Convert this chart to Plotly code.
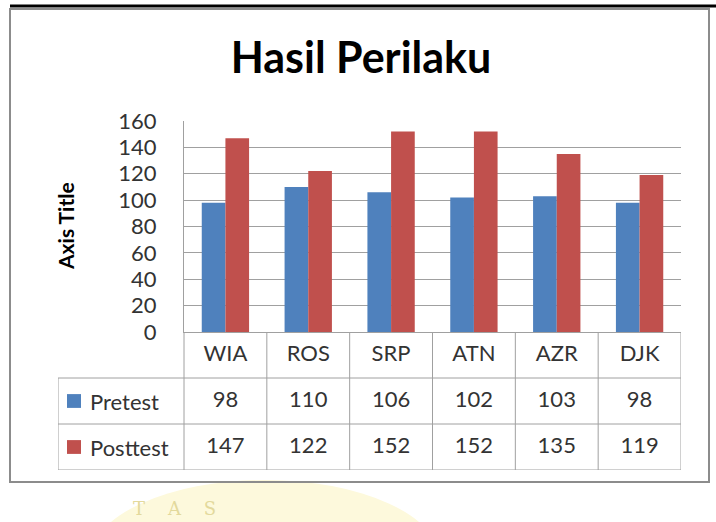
import plotly.graph_objects as go

# ---- data ----
categories = ["WIA", "ROS", "SRP", "ATN", "AZR", "DJK"]
pretest = [98, 110, 106, 102, 103, 98]
posttest = [147, 122, 152, 152, 135, 119]
series_names = ["Pretest", "Posttest"]
title_text = "Hasil Perilaku"
y_axis_title = "Axis Title"
y_ticks = [0, 20, 40, 60, 80, 100, 120, 140, 160]

# ---- layout helpers (pixel -> paper) ----
W, H = 716, 522
def px(x):
    return x / W
def py(y):
    return 1 - y / H

BLUE = "#4F81BD"
RED = "#C0504D"
GRID = "#a0a0a0"
TXT = "#333333"
FONT = "Lato"

plot_left, plot_right = 184, 681
plot_top, plot_bottom = 121, 332
table_left, table_bottom = 58, 470

ncat = len(categories)
cat_w = (plot_right - plot_left) / ncat
x2_min = -0.5 - (plot_left - table_left) / cat_w

fig = go.Figure()
fig.add_trace(go.Bar(x=categories, y=pretest, name=series_names[0],
                     marker=dict(color=BLUE, line=dict(width=0)),
                     xaxis="x", yaxis="y", showlegend=False))
fig.add_trace(go.Bar(x=categories, y=posttest, name=series_names[1],
                     marker=dict(color=RED, line=dict(width=0)),
                     xaxis="x", yaxis="y", showlegend=False))

# data table as text on its own axes
rows = [(categories, 2.5), ([str(v) for v in pretest], 1.5), ([str(v) for v in posttest], 0.5)]
for texts, yv in rows:
    fig.add_trace(go.Scatter(x=categories, y=[yv] * ncat, text=texts, mode="text",
                             textposition="middle center", cliponaxis=False,
                             textfont=dict(family=FONT, size=22, color=TXT),
                             xaxis="x2", yaxis="y2", showlegend=False, hoverinfo="skip"))

shapes = []
# watermark blob
shapes.append(dict(type="circle", xref="paper", yref="paper", layer="below",
                   x0=px(90), x1=px(440), y0=py(640), y1=py(480),
                   fillcolor="#fdf9dc", line=dict(width=0)))
# outer black rule and chart border
shapes.append(dict(type="line", xref="paper", yref="paper", x0=px(10), x1=1, y0=py(6), y1=py(6),
                   line=dict(color="black", width=3)))
shapes.append(dict(type="rect", xref="paper", yref="paper", x0=px(10), x1=px(709), y0=py(482), y1=py(9),
                   line=dict(color="#8c8c8c", width=2)))
# table grid
tl = dict(color=GRID, width=1)
for yv, xs in [(3, -0.5), (2, x2_min), (1, x2_min), (0, x2_min)]:
    shapes.append(dict(type="line", xref="x2", yref="y2", x0=xs, x1=ncat - 0.5, y0=yv, y1=yv, line=tl))
shapes.append(dict(type="line", xref="x2", yref="y2", x0=x2_min, x1=x2_min, y0=0, y1=2, line=tl))
for i in range(ncat + 1):
    shapes.append(dict(type="line", xref="x2", yref="y2", x0=i - 0.5, x1=i - 0.5, y0=0, y1=3, line=tl))
# legend keys in the table
key_x0 = x2_min + (67 - table_left) / cat_w
key_x1 = x2_min + (81 - table_left) / cat_w
for col, yc in [(BLUE, 1.5), (RED, 0.5)]:
    shapes.append(dict(type="rect", xref="x2", yref="y2", x0=key_x0, x1=key_x1,
                       y0=yc - 0.15, y1=yc + 0.15, fillcolor=col, line=dict(width=0)))

annotations = []
label_x = x2_min + (88 - table_left) / cat_w
for name, yc in [(series_names[0], 1.5), (series_names[1], 0.5)]:
    annotations.append(dict(text=name, xref="x2", yref="y2", x=label_x, y=yc,
                            xanchor="left", yanchor="middle", showarrow=False,
                            font=dict(family=FONT, size=22, color=TXT)))
annotations.append(dict(text="<b>" + y_axis_title + "</b>", xref="paper", yref="paper",
                        x=px(65), y=py(226), textangle=-90, showarrow=False,
                        xanchor="center", yanchor="middle",
                        font=dict(family=FONT, size=21, color="black")))
annotations.append(dict(text="T    A    S", xref="paper", yref="paper", x=px(174), y=py(521),
                        xanchor="center", yanchor="bottom", showarrow=False,
                        font=dict(family="DejaVu Serif", size=18, color="#e3d99c")))

fig.update_layout(
    width=W, height=H,
    margin=dict(l=0, r=0, t=0, b=0, pad=0, autoexpand=False),
    paper_bgcolor="white", plot_bgcolor="rgba(0,0,0,0)",
    title=dict(text="<b>" + title_text + "</b>", x=px(361), y=py(58), xanchor="center", yanchor="middle",
               xref="paper", yref="paper", font=dict(family=FONT, size=43, color="black")),
    barmode="group", bargap=1.5 / 3.5, bargroupgap=0,
    xaxis=dict(domain=[px(plot_left), px(plot_right)], range=[-0.5, ncat - 0.5],
               type="category", categoryarray=categories, automargin=False,
               showticklabels=False, showgrid=False, zeroline=False,
               showline=True, linecolor=GRID, linewidth=1, ticks=""),
    yaxis=dict(domain=[py(plot_bottom), py(plot_top)], range=[0, 160], automargin=False,
               tickvals=y_ticks, showgrid=True, gridcolor=GRID, gridwidth=1,
               zeroline=False, showline=True, linecolor=GRID, linewidth=1,
               ticks="outside", ticklen=22, tickcolor="rgba(0,0,0,0)",
               tickfont=dict(family=FONT, size=22, color=TXT)),
    xaxis2=dict(domain=[px(table_left), px(plot_right)], range=[x2_min, ncat - 0.5],
                type="category", categoryarray=categories, visible=False, automargin=False),
    yaxis2=dict(domain=[py(table_bottom), py(plot_bottom)], range=[0, 3], visible=False,
                automargin=False),
    shapes=shapes, annotations=annotations,
)

fig.write_html("out.html", config={"displayModeBar": False},
               post_script="document.body.style.margin='0';document.body.style.padding='0';")
